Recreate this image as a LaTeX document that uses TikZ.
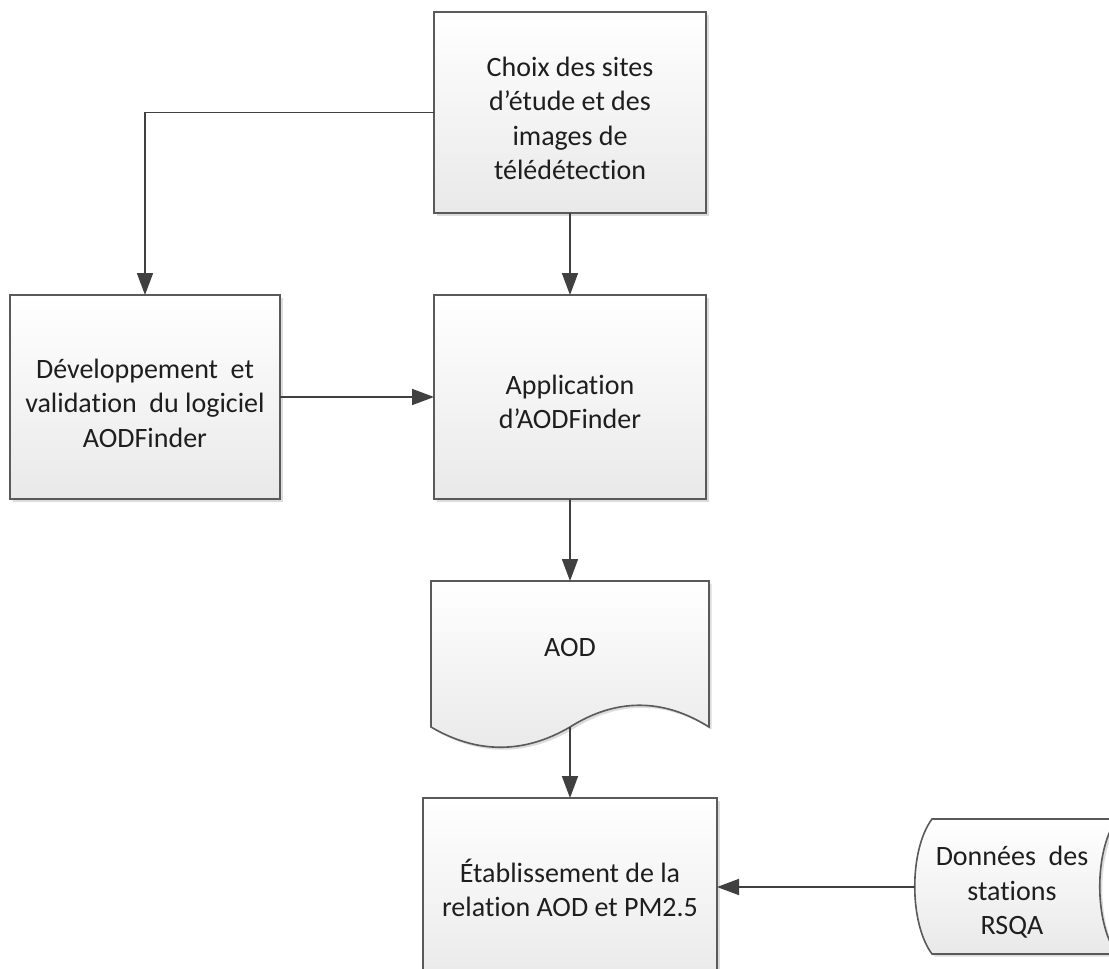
\documentclass[tikz,border=0pt]{standalone}
\usepackage{fontspec}
\setmainfont{Carlito}[Ligatures={NoCommon}]
\usetikzlibrary{arrows.meta,shadows}
\definecolor{edge}{HTML}{5A5A5A}
\definecolor{linec}{HTML}{404040}
\definecolor{txtc}{HTML}{1E1E1E}
\definecolor{fillbot}{HTML}{E9E9E9}
\tikzset{
  box/.style={draw=edge, line width=1.6pt, top color=white, bottom color=fillbot,
    outer sep=0pt, inner sep=0pt,
    drop shadow={shadow xshift=2.5pt, shadow yshift=-2.5pt, opacity=.3, fill=black!45}},
  shapefill/.style={draw=edge, line width=1.6pt, top color=white, bottom color=fillbot,
    drop shadow={shadow xshift=2.5pt, shadow yshift=-2.5pt, opacity=.3, fill=black!45}},
  txt/.style={align=center, text=txtc, font=\fontsize{28}{34.5}\selectfont, inner sep=0pt},
  arr/.style={draw=linec, line width=1.7pt, -{Triangle[length=22pt,width=16pt]}},
}
\begin{document}
\begin{tikzpicture}[x=1pt,y=-1pt]
\useasboundingbox (0,0) rectangle (1109,969);
\clip (0,0) rectangle (1109,969);
\fill[white] (0,0) rectangle (1109,969);
% boxes
\node[box, minimum width=272pt, minimum height=201pt] (choix) at (570,112.5) {};
\node[txt] (choixT) at ([yshift=-6pt]choix.center)
  {Choix des sites\\d’étude et des\\images de\\télédétection};
\node[box, minimum width=270pt, minimum height=204pt] (dev) at (145,397) {};
\node[txt] (devT) at ([yshift=-6pt]dev.center)
  {Développement\ \ et\\validation\ \ du logiciel\\AODFinder};
\node[box, minimum width=272pt, minimum height=204pt] (app) at (570,397) {};
\node[txt] (appT) at ([yshift=-5pt]app.center)
  {Application\\d’AODFinder};
\node[box, minimum width=294pt, minimum height=188pt] (etab) at (570,892) {};
\node[txt] (etabT) at ([yshift=4pt]etab.center)
  {Établissement de la\\relation AOD et PM2.5};
% document shape AOD
\path[shapefill] (431,581) -- (709,581) -- (709,727)
  .. controls (663,698) and (616,698) .. (570,727)
  .. controls (524,754) and (477,754) .. (431,727) -- cycle;
\node[txt] (aod) at (570,648) {AOD};
\coordinate (aodN) at (570,581);
\coordinate (aodS) at (570,727);
% stored data shape
\path[shapefill] (932,819) -- (1117,819)
  .. controls (1094,850) and (1094,923) .. (1117,954)
  -- (932,954)
  .. controls (909,923) and (909,850) .. (932,819) -- cycle;
\node[txt] (rsqa) at (1012,892.5) {Données\ \ des\\stations\\RSQA};
\coordinate (rsqaW) at (914.7,887);
% connectors
\draw[arr] (choix.west) -| (dev.north);
\draw[arr] (choix.south) -- (app.north);
\draw[arr] (dev.east) -- (app.west);
\draw[arr] (app.south) -- (aodN);
\draw[arr] (aodS) -- (etab.north);
\draw[arr] (rsqaW) -- (rsqaW -| etab.east);
\end{tikzpicture}
\end{document}
